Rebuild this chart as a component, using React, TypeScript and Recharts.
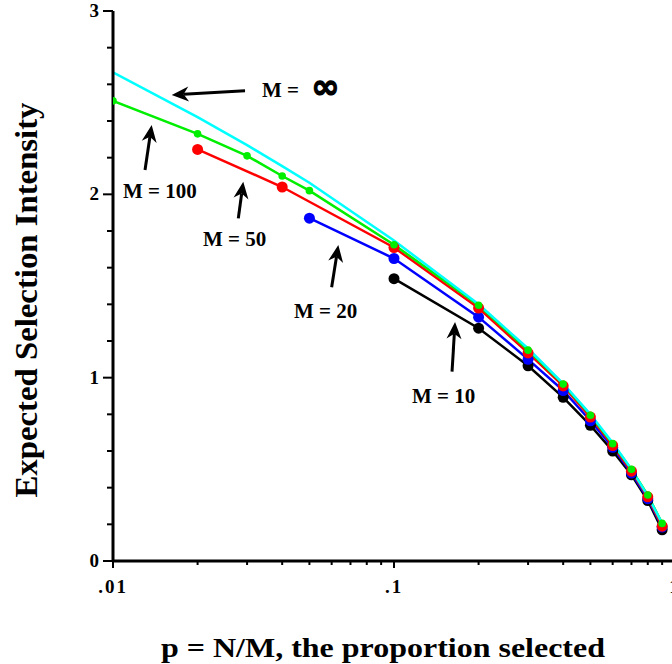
import React from 'react';
import { LineChart, Line, XAxis, YAxis, ReferenceLine, ReferenceDot, Label } from 'recharts';

// proportion selected p = N/M and expected selection intensity
const pInf = [0.01, 0.02, 0.03, 0.04, 0.05, 0.1, 0.2, 0.3, 0.4, 0.5, 0.6, 0.7, 0.8, 0.9];
const iInf = [2.665, 2.421, 2.268, 2.154, 2.063, 1.748, 1.4, 1.159, 0.968, 0.8, 0.645, 0.5, 0.355, 0.205];

const p100 = [0.01, 0.02, 0.03, 0.04, 0.05, 0.1, 0.2, 0.3, 0.4, 0.5, 0.6, 0.7, 0.8, 0.9];
const i100 = [2.51, 2.33, 2.21, 2.1, 2.02, 1.725, 1.395, 1.15, 0.965, 0.795, 0.64, 0.5, 0.36, 0.205];

const p50 = [0.02, 0.04, 0.1, 0.2, 0.3, 0.4, 0.5, 0.6, 0.7, 0.8, 0.9];
const i50 = [2.245, 2.04, 1.71, 1.38, 1.135, 0.955, 0.785, 0.63, 0.49, 0.35, 0.19];

const p20 = [0.05, 0.1, 0.2, 0.3, 0.4, 0.5, 0.6, 0.7, 0.8, 0.9];
const i20 = [1.87, 1.65, 1.33, 1.1, 0.93, 0.765, 0.62, 0.48, 0.34, 0.185];

const p10 = [0.1, 0.2, 0.3, 0.4, 0.5, 0.6, 0.7, 0.8, 0.9];
const i10 = [1.54, 1.27, 1.065, 0.893, 0.74, 0.6, 0.47, 0.33, 0.17];

const xTicks = [0.01, 0.02, 0.03, 0.04, 0.05, 0.06, 0.07, 0.08, 0.09, 0.1, 0.2, 0.3, 0.4, 0.5, 0.6, 0.7, 0.8, 0.9, 1];
const xMajorLabels: Record<string, string> = { '0.01': '.01', '0.1': '.1', '1': '1' };
const yTicks = [0, 0.2, 0.4, 0.6, 0.8, 1, 1.2, 1.4, 1.6, 1.8, 2, 2.2, 2.4, 2.6, 2.8, 3];

// arrow annotations: tail -> head in data units, label anchored at its start/baseline
const annotations = [
  { text: 'M = ', inf: true, lp: 0.0339, li: 2.531, tp: 0.0295, ti: 2.565, hp: 0.01618, hi: 2.542 },
  { text: 'M = 100', inf: false, lp: 0.01085, li: 1.98, tp: 0.013, ti: 2.133, hp: 0.01373, hi: 2.378 },
  { text: 'M = 50', inf: false, lp: 0.02091, li: 1.718, tp: 0.02792, ti: 1.869, hp: 0.02908, hi: 2.069 },
  { text: 'M = 20', inf: false, lp: 0.04407, li: 1.325, tp: 0.06, ti: 1.493, hp: 0.06337, hi: 1.724 },
  { text: 'M = 10', inf: false, lp: 0.1159, li: 0.862, tp: 0.1609, ti: 1.033, hp: 0.1649, hi: 1.304 },
];

const FONT = '"Liberation Serif", "Times New Roman", Times, serif';

const toPoints = (ps: number[], vs: number[]) => ps.map((p, k) => ({ p, i: vs[k] }));

const series = [
  { name: 'M = 10', data: toPoints(p10, i10), color: '#000000', r: 5.5 },
  { name: 'M = 20', data: toPoints(p20, i20), color: '#0000ff', r: 5.5 },
  { name: 'M = 50', data: toPoints(p50, i50), color: '#ff0000', r: 5.5 },
  { name: 'M = 100', data: toPoints(p100, i100), color: '#00ee00', r: 3.8 },
  { name: 'M = inf', data: toPoints(pInf, iInf), color: '#00ffff', r: 0 },
];

const isMajor = (v: number) => Math.abs(v - Math.round(v)) < 1e-6;

const YTick = (props: any) => {
  const { x, y, payload } = props;
  const v = payload.value;
  const major = isMajor(v);
  return (
    <g>
      <line x1={x - (major ? 10 : 6)} y1={y} x2={x} y2={y} stroke="#000" strokeWidth={2} />
      {major && (
        <text x={x - 14} y={y + 6} textAnchor="end" fontFamily={FONT} fontWeight="bold" fontSize={19} fill="#000">
          {v}
        </text>
      )}
    </g>
  );
};

const XTick = (props: any) => {
  const { x, y, payload } = props;
  const label = xMajorLabels[String(payload.value)];
  return (
    <g>
      <line x1={x} y1={y} x2={x} y2={y + (label ? 7 : 4)} stroke="#000" strokeWidth={2} />
      {label && (
        <text x={x} y={y + 32} textAnchor="middle" fontFamily={FONT} fontWeight="bold" fontSize={19} letterSpacing={2} fill="#000">
          {label}
        </text>
      )}
    </g>
  );
};

const Arrow = (props: any) => {
  const { x1, y1, x2, y2 } = props;
  const dx = x2 - x1;
  const dy = y2 - y1;
  const len = Math.sqrt(dx * dx + dy * dy) || 1;
  const ux = dx / len;
  const uy = dy / len;
  const nx = -uy;
  const ny = ux;
  const L = 17;
  const W = 7.5;
  const bx = x2 - ux * L;
  const by = y2 - uy * L;
  const notchX = x2 - ux * L * 0.7;
  const notchY = y2 - uy * L * 0.7;
  const head = `${x2},${y2} ${bx + nx * W},${by + ny * W} ${notchX},${notchY} ${bx - nx * W},${by - ny * W}`;
  return (
    <g>
      <line x1={x1} y1={y1} x2={notchX} y2={notchY} stroke="#000" strokeWidth={3} />
      <polygon points={head} fill="#000" />
    </g>
  );
};

export default function App() {
  return (
    <div style={{ position: 'absolute', left: 0, top: 0, width: 672, height: 664, overflow: 'hidden', background: '#fff' }}>
      <LineChart width={700} height={664} margin={{ top: 11, right: 25, bottom: 43, left: 53 }}>
        <XAxis
          dataKey="p"
          type="number"
          scale="log"
          domain={[0.01, 1]}
          allowDataOverflow
          ticks={xTicks}
          interval={0}
          tickSize={0}
          tickMargin={0}
          tickLine={false}
          tick={<XTick />}
          axisLine={{ stroke: '#000', strokeWidth: 3 }}
          height={60}
        >
          <Label
            content={(lp: any) => {
              const vb = lp.viewBox;
              return (
                <text
                  x={vb.x + vb.width / 2 - 11}
                  y={657}
                  textAnchor="middle"
                  fontFamily={FONT}
                  fontWeight="bold"
                  fontSize={28}
                  textLength={444}
                  lengthAdjust="spacingAndGlyphs"
                  fill="#000"
                >
                  p = N/M, the proportion selected
                </text>
              );
            }}
          />
        </XAxis>
        <YAxis
          dataKey="i"
          type="number"
          domain={[0, 3]}
          ticks={yTicks}
          interval={0}
          tickSize={0}
          tickMargin={0}
          tickLine={false}
          tick={<YTick />}
          axisLine={{ stroke: '#000', strokeWidth: 3 }}
          width={60}
        >
          <Label
            content={(lp: any) => {
              const vb = lp.viewBox;
              const cy = vb.y + vb.height / 2 + 14;
              return (
                <text
                  x={37}
                  y={cy}
                  transform={`rotate(-90 37 ${cy})`}
                  textAnchor="middle"
                  fontFamily={FONT}
                  fontWeight="bold"
                  fontSize={32}
                  textLength={395}
                  lengthAdjust="spacingAndGlyphs"
                  fill="#000"
                >
                  Expected Selection Intensity
                </text>
              );
            }}
          />
        </YAxis>
        {series.map((s) => (
          <Line
            key={s.name}
            data={s.data}
            dataKey="i"
            name={s.name}
            type="linear"
            stroke={s.color}
            strokeWidth={2.5}
            dot={s.r > 0 ? { r: s.r, fill: s.color, stroke: s.color, strokeWidth: 0 } : false}
            activeDot={false}
            isAnimationActive={false}
          />
        ))}
        {annotations.map((a, k) => (
          <ReferenceLine
            key={`arrow-${k}`}
            segment={[{ x: a.tp, y: a.ti }, { x: a.hp, y: a.hi }]}
            shape={<Arrow />}
            ifOverflow="visible"
          />
        ))}
        {annotations.map((a, k) => (
          <ReferenceDot
            key={`label-${k}`}
            x={a.lp}
            y={a.li}
            r={0}
            ifOverflow="visible"
            shape={(dp: any) => (
              <text x={dp.cx} y={dp.cy} fontFamily={FONT} fontWeight="bold" fontSize={21} fill="#000">
                {a.text}
                {a.inf && (
                  <tspan
                    dx={7}
                    dy={1}
                    fontFamily='"DejaVu Sans", sans-serif'
                    fontWeight="bold"
                    fontSize={34}
                    stroke="#000"
                    strokeWidth={1.2}
                  >
                    ∞
                  </tspan>
                )}
              </text>
            )}
          />
        ))}
      </LineChart>
    </div>
  );
}
